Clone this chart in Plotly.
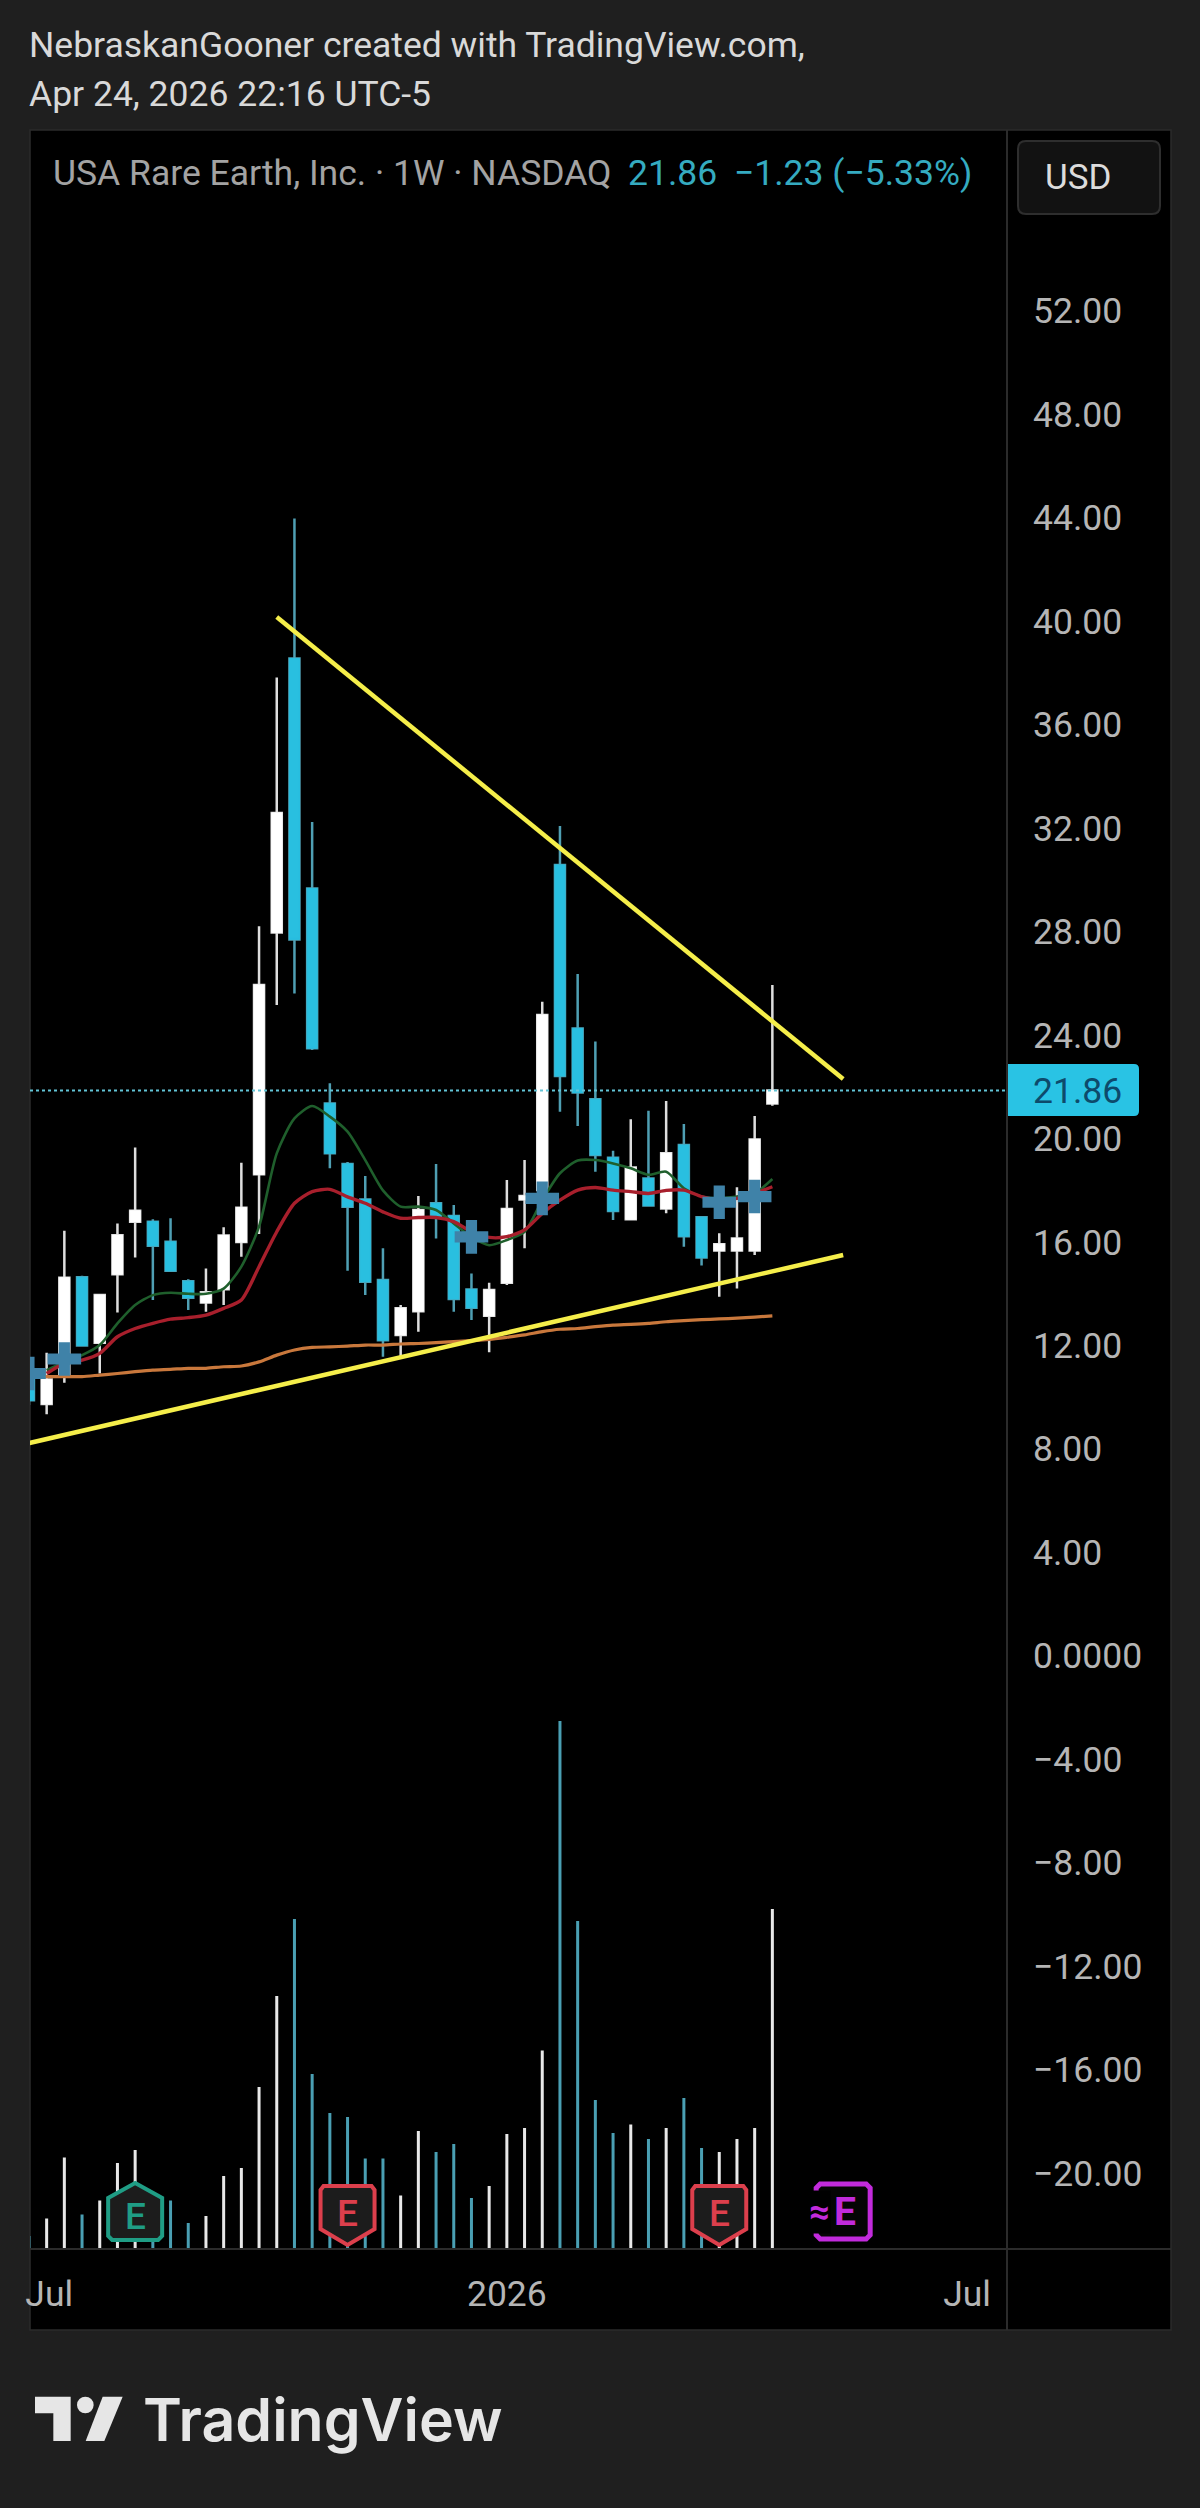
import pandas as pd
import plotly.graph_objects as go

W, H = 1200, 2508

# ---- data, oldest to newest (weekly) ----
DATES = pd.date_range("2025-06-30", "2026-04-20", freq="7D")
OPEN = [11.05, 9.74, 10.86, 14.64, 12.11, 14.76, 16.79, 16.79, 16.01, 14.49, 13.66, 14.18, 16.0, 18.62,
        27.97, 38.56, 29.67, 21.36, 19.02, 17.65, 14.53, 12.41, 13.33, 17.5, 17.01, 14.17, 13.15, 14.43,
        17.65, 18.01, 30.58, 24.26, 21.52, 19.26, 16.88, 18.46, 17.3, 19.75, 16.96, 15.67, 15.67, 15.67, 21.36]
HIGH = [11.5, 11.72, 16.44, 14.7, 14.0, 16.72, 19.66, 16.88, 16.92, 14.56, 14.98, 16.57, 19.07, 28.21,
        37.82, 43.97, 32.24, 22.14, 19.1, 18.55, 15.76, 13.57, 17.78, 19.02, 17.43, 14.79, 14.43, 18.4,
        19.17, 25.29, 32.08, 26.36, 23.75, 19.53, 20.75, 21.08, 21.45, 20.56, 17.0, 16.34, 18.12, 20.87, 25.94]
LOW = [9.7, 9.34, 10.56, 11.95, 10.92, 13.28, 15.4, 13.76, 14.89, 13.37, 13.31, 13.57, 15.43, 16.31,
       25.16, 25.61, 23.42, 18.85, 14.89, 13.95, 11.57, 11.5, 12.53, 16.14, 13.31, 12.99, 11.74, 14.34,
       15.76, 17.82, 21.04, 20.49, 18.72, 16.85, 16.85, 17.41, 17.11, 15.82, 15.09, 13.89, 14.21, 15.5, 21.27]
CLOSE = [9.89, 10.69, 14.62, 12.0, 13.95, 16.26, 17.21, 15.86, 14.89, 13.85, 14.06, 16.25, 17.33, 25.94,
         32.59, 27.7, 23.49, 19.43, 17.37, 14.47, 12.21, 13.44, 17.24, 17.02, 13.8, 13.46, 14.15, 17.28,
         17.78, 24.78, 22.42, 21.78, 19.37, 17.2, 18.88, 17.41, 19.43, 16.23, 15.4, 15.92, 16.14, 19.97, 21.86]
VOLUME_M = [2.6, 6.1, 18.3, 6.9, 9.7, 17.2, 19.8, 9.2, 9.7, 5.2, 6.6, 14.6, 16.2, 32.4, 50.6, 66.0, 35.0,
            27.2, 26.4, 18.1, 18.1, 10.7, 23.6, 19.4, 21.0, 10.2, 12.6, 23.0, 24.2, 39.7, 105.6, 65.6, 29.8,
            23.2, 24.9, 22.0, 24.2, 30.2, 20.2, 19.4, 22.0, 24.2, 68.0]
MA_GREEN = [None, 11.05, 11.37, 11.63, 12.02, 12.86, 13.57, 13.95, 14.04, 14.0, 14.0, 14.2, 15.05, 16.6,
            19.43, 20.78, 21.26, 20.85, 20.27, 19.17, 18.0, 17.37, 17.37, 17.24, 16.72, 16.2, 15.88, 16.08,
            16.4, 17.62, 18.66, 19.15, 19.17, 19.04, 18.85, 18.6, 18.72, 18.08, 17.76, 17.69, 17.76, 17.88, 18.44]
MA_RED = [None, 10.92, 11.31, 11.44, 11.7, 12.34, 12.66, 12.86, 13.02, 13.08, 13.18, 13.44, 13.76, 15.05,
          16.4, 17.5, 17.95, 18.04, 17.75, 17.5, 17.17, 16.92, 16.95, 16.95, 16.79, 16.4, 16.18, 16.21,
          16.47, 17.11, 17.62, 18.01, 18.11, 18.01, 17.95, 17.88, 18.0, 18.01, 17.76, 17.63, 17.69, 17.88, 18.14]
MA_ORANGE = [10.8, 10.8, 10.8, 10.8, 10.86, 10.92, 10.99, 11.05, 11.08, 11.12, 11.12, 11.18, 11.21, 11.37,
             11.63, 11.83, 11.93, 11.95, 11.98, 12.02, 12.02, 12.06, 12.08, 12.11, 12.15, 12.19, 12.24, 12.32,
             12.41, 12.54, 12.63, 12.66, 12.73, 12.79, 12.82, 12.86, 12.92, 12.96, 13.0, 13.03, 13.06, 13.1, 13.15]
PLUS_DATES = ["2025-06-30", "2025-07-14", "2025-12-22", "2026-01-19", "2026-03-30", "2026-04-13"]
PLUS_PRICES = [10.92, 11.48, 16.2, 17.69, 17.54, 17.76]
UPPER_TREND_DATES = ["2025-10-06", "2026-05-18"]
UPPER_TREND_PRICES = [40.16, 22.30]
LOWER_TREND_DATES = ["2025-06-30", "2026-05-18"]
LOWER_TREND_PRICES = [8.23, 15.5]
LAST_PRICE = 21.86
PRICE_TICKS = [52, 48, 44, 40, 36, 32, 28, 24, 20, 16, 12, 8, 4, 0, -4, -8, -12, -16, -20]
PRICE_TICK_LABELS = ["52.00", "48.00", "44.00", "40.00", "36.00", "32.00", "28.00", "24.00", "20.00", "16.00",
                     "12.00", "8.00", "4.00", "0.0000", "−4.00", "−8.00", "−12.00", "−16.00", "−20.00"]
TIME_TICKS = ["2025-07-08", "2026-01-05", "2026-07-06"]
TIME_TICK_LABELS = ["Jul", "2026", "Jul"]
EARNINGS = [("2025-08-11", "beat"), ("2025-11-03", "miss"), ("2026-03-30", "miss"), ("2026-05-18", "next")]

# ---- styling ----
BG = "#1f1f1f"
BLUE = "#29bfe0"
BLUE_WICK = "#4f9fb3"
BLUE_VOL = "#4a9fb3"
WHITE = "#ffffff"
WHITE_WICK = "#dedede"
TXT = "#c9c9c9"
FONT = "Roboto"
PANE_L, PANE_R, PANE_T, PANE_B, SPLIT_X, SPLIT_Y = 30, 1171, 130, 2330, 1007, 2249


def fx(px):
    return px / W


def fy(py):
    return 1 - py / H


up = [c >= o for o, c in zip(OPEN, CLOSE)]
fig = go.Figure()

# volume
fig.add_trace(go.Bar(x=DATES, y=VOLUME_M, yaxis="y2",
                     marker=dict(color=["#e8e8e8" if u else BLUE_VOL for u in up], line_width=0),
                     showlegend=False, hoverinfo="skip"))
# moving averages
for series, colour, width in [(MA_ORANGE, "#c9783c", 3.2), (MA_GREEN, "#1f5f2c", 2.6), (MA_RED, "#a81f2c", 3.4)]:
    fig.add_trace(go.Scatter(x=DATES, y=series, mode="lines", showlegend=False, hoverinfo="skip",
                             line=dict(color=colour, width=width, shape="spline", smoothing=0.7)))
# plus markers
fig.add_trace(go.Scatter(x=PLUS_DATES, y=PLUS_PRICES, mode="markers", showlegend=False, hoverinfo="skip",
                         marker=dict(symbol="cross", size=28, color="#3f82a8", line_width=0)))
# wicks
fig.add_trace(go.Candlestick(x=DATES, open=OPEN, high=HIGH, low=LOW, close=CLOSE, showlegend=False,
                             whiskerwidth=0, hoverinfo="skip",
                             increasing=dict(line=dict(color=WHITE_WICK, width=2.5), fillcolor=WHITE),
                             decreasing=dict(line=dict(color=BLUE_WICK, width=2.5), fillcolor=BLUE)))
# bodies
body_hi = [max(o, c) for o, c in zip(OPEN, CLOSE)]
body_lo = [min(o, c) for o, c in zip(OPEN, CLOSE)]
fig.add_trace(go.Candlestick(x=DATES, open=OPEN, high=body_hi, low=body_lo, close=CLOSE, showlegend=False,
                             whiskerwidth=0, hoverinfo="skip",
                             increasing=dict(line=dict(color=WHITE, width=1), fillcolor=WHITE),
                             decreasing=dict(line=dict(color=BLUE, width=1), fillcolor=BLUE)))
# trendlines
for xs, ys in [(UPPER_TREND_DATES, UPPER_TREND_PRICES), (LOWER_TREND_DATES, LOWER_TREND_PRICES)]:
    fig.add_trace(go.Scatter(x=xs, y=ys, mode="lines", showlegend=False, hoverinfo="skip", cliponaxis=True,
                             line=dict(color="#f5ee4a", width=4.5)))
# last price line
fig.add_trace(go.Scatter(x=["2025-06-30 10:00", "2026-07-21 19:00"], y=[LAST_PRICE, LAST_PRICE], mode="lines",
                         showlegend=False, hoverinfo="skip",
                         line=dict(color="#62c4d6", width=2, dash="dot")))

shapes = []
# pane background
shapes.append(dict(type="rect", xref="paper", yref="paper", x0=fx(PANE_L), x1=fx(PANE_R), y0=fy(PANE_B), y1=fy(PANE_T),
                   fillcolor="#000000", line=dict(color="#2b2b2b", width=1.5), layer="below"))
# pane separators
shapes.append(dict(type="line", xref="paper", yref="paper", x0=fx(SPLIT_X), x1=fx(SPLIT_X), y0=fy(PANE_B), y1=fy(PANE_T),
                   line=dict(color="#2b2b2b", width=2)))
shapes.append(dict(type="line", xref="paper", yref="paper", x0=fx(PANE_L), x1=fx(PANE_R), y0=fy(SPLIT_Y), y1=fy(SPLIT_Y),
                   line=dict(color="#2b2b2b", width=2)))
# USD button
shapes.append(dict(type="path", xref="paper", yref="paper",
                   path=" ".join(f"{c}{fx(x)},{fy(y)}" for c, x, y in [
                       ("M", 1026, 141), ("L", 1152, 141), ("Q", 1160, 141), ("", 1160, 149), ("L", 1160, 206),
                       ("Q", 1160, 214), ("", 1152, 214), ("L", 1026, 214), ("Q", 1018, 214), ("", 1018, 206),
                       ("L", 1018, 149), ("Q", 1018, 141), ("", 1026, 141)]) + " Z",
                   fillcolor="#121212", line=dict(color="#2e2e2e", width=2)))
# price tag
shapes.append(dict(type="path", xref="paper", yref="paper",
                   path=" ".join(f"{c}{fx(x)},{fy(y)}" for c, x, y in [
                       ("M", 1008, 1064), ("L", 1134, 1064), ("Q", 1139, 1064), ("", 1139, 1069), ("L", 1139, 1111),
                       ("Q", 1139, 1116), ("", 1134, 1116), ("L", 1008, 1116)]) + " Z",
                   fillcolor="#29c3e4", line_width=0))


def icon(date, pts, colour, fill="#1c1c1c", width=4):
    path = "M" + " L".join(f"{x},{fy(y)}" for x, y in pts) + " Z"
    shapes.append(dict(type="path", xref="x", yref="paper", xsizemode="pixel", xanchor=date, path=path,
                       fillcolor=fill, line=dict(color=colour, width=width)))


ICON_STYLE = {"beat": "#1f9d85", "miss": "#dc3f4c", "next": "#c22bdc"}
annotations = []
for date, kind in EARNINGS:
    colour = ICON_STYLE[kind]
    if kind == "beat":
        icon(date, [(0, 2183), (27, 2198), (27, 2236), (23, 2240), (-23, 2240), (-27, 2236), (-27, 2198)], colour)
        annotations.append(dict(x=date, y=fy(2216), xref="x", yref="paper", text="E", showarrow=False, yanchor="middle",
                                font=dict(family=FONT, size=37, color=colour, weight=500)))
    elif kind == "miss":
        icon(date, [(-24, 2186), (24, 2186), (27, 2190), (27, 2229), (0, 2245), (-27, 2229), (-27, 2190)], colour)
        annotations.append(dict(x=date, y=fy(2213), xref="x", yref="paper", text="E", showarrow=False, yanchor="middle",
                                font=dict(family=FONT, size=37, color=colour, weight=500)))
    else:
        icon(date, [(-23, 2184), (23, 2184), (27, 2188), (27, 2235), (23, 2239), (-23, 2239), (-27, 2235), (-27, 2188)],
             colour, "#050505", 5)
        annotations.append(dict(x=date, y=fy(2212), xref="x", yref="paper", xshift=-24, text="≈", showarrow=False,
                                yanchor="middle", font=dict(family=FONT, size=36, color=colour, weight=700),
                                bgcolor="#000000", borderpad=0))
        annotations.append(dict(x=date, y=fy(2212), xref="x", yref="paper", xshift=2, text="E", showarrow=False,
                                yanchor="middle", font=dict(family=FONT, size=39, color=colour, weight=700)))


def label(px, py, text, colour=TXT, size=35.5, anchor="left", weight=400, family=FONT):
    annotations.append(dict(x=fx(px), y=fy(py), xref="paper", yref="paper", text=text, showarrow=False,
                            xanchor=anchor, yanchor="middle", xshift=0, borderpad=0,
                            font=dict(family=family, size=size, color=colour, weight=weight)))


label(28, 45, "NebraskanGooner created with TradingView.com,", "#d9d9d9")
label(28, 94, "Apr 24, 2026 22:16 UTC-5", "#d9d9d9")
label(52, 173, "USA Rare Earth, Inc. · 1W · NASDAQ", "#a3a3a3")
label(627, 173, "21.86", "#35abc0")
label(733, 173, "−1.23 (−5.33%)", "#35abc0")
label(1078, 177, "USD", "#dcdcdc", 35, "center")
label(1077, 1091, "21.86", "#0d4a6b", 35.5, "center")

# TradingView logo
shapes.append(dict(type="path", xref="paper", yref="paper", line_width=0, fillcolor="#e6e6e6",
                   path="M" + " L".join(f"{fx(20 + x / 3)},{fy(2380 + y / 3)}" for x, y in
                                        [(45, 50), (152, 50), (152, 183), (100, 183), (100, 100), (45, 100)]) + " Z"))
shapes.append(dict(type="path", xref="paper", yref="paper", line_width=0, fillcolor="#e6e6e6",
                   path="M" + " L".join(f"{fx(20 + x / 3)},{fy(2380 + y / 3)}" for x, y in
                                        [(248, 50), (308, 50), (253, 183), (197, 183)]) + " Z"))
shapes.append(dict(type="circle", xref="paper", yref="paper", line_width=0, fillcolor="#e6e6e6",
                   x0=fx(20 + 171 / 3), x1=fx(20 + 221 / 3), y0=fy(2380 + 100 / 3), y1=fy(2380 + 50 / 3)))
label(142, 2419, "TradingView", "#e6e6e6", 59, "left", 600, "Inter")

fig.update_layout(
    width=W, height=H, margin=dict(l=0, r=0, t=0, b=0, pad=0, autoexpand=False),
    paper_bgcolor=BG, plot_bgcolor="#000000", showlegend=False, bargap=0.83, boxgap=0.19,
    font=dict(family=FONT, color=TXT, size=35.5),
    xaxis=dict(domain=[fx(PANE_L), fx(SPLIT_X)], range=["2025-06-30 10:00", "2026-07-21 19:00"], type="date",
               rangeslider=dict(visible=False), showgrid=False, zeroline=False, showline=False,
               tickmode="array", tickvals=TIME_TICKS, ticktext=TIME_TICK_LABELS, ticks="", tickangle=0,
               ticklabelstandoff=20, tickfont=dict(family=FONT, size=35.5, color="#b5b5b5")),
    yaxis=dict(domain=[fy(SPLIT_Y), fy(PANE_T)], range=[(1656 - SPLIT_Y) / 25.87, (1656 - PANE_T) / 25.87],
               side="right", showgrid=False, zeroline=False, showline=False, ticks="",
               tickmode="array", tickvals=PRICE_TICKS, ticktext=PRICE_TICK_LABELS, ticklabelstandoff=25,
               tickfont=dict(family=FONT, size=35.5, color="#b5b5b5")),
    yaxis2=dict(domain=[fy(SPLIT_Y), fy(PANE_T)], range=[0, (SPLIT_Y - PANE_T) * 0.2], overlaying="y", visible=False,
                fixedrange=True),
    shapes=shapes, annotations=annotations,
)

fig.write_html("out.html", config=dict(displayModeBar=False),
               post_script="document.body.style.margin='0';document.body.style.overflow='hidden';"
                           "document.body.style.background='#1f1f1f';")
